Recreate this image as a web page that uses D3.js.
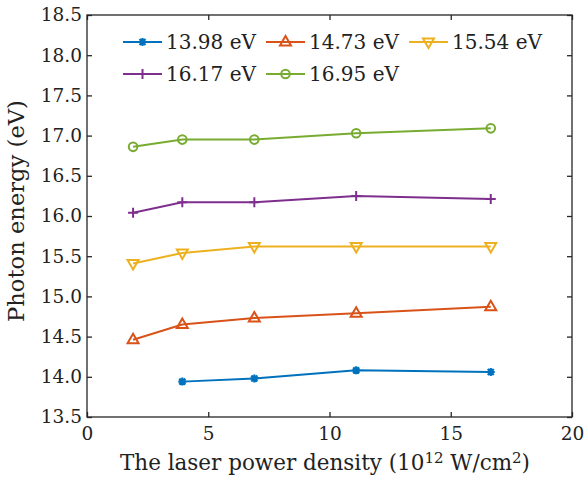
<!DOCTYPE html>
<html><head><meta charset="utf-8">
<script src="https://cdn.jsdelivr.net/npm/d3@7"></script>
<style>body{margin:0;background:#fff}svg text{font-family:"DejaVu Serif",serif;fill:#222}</style>
</head><body><svg id="c" width="584" height="478"></svg>
<script>
const seriesNames = ["13.98 eV","14.73 eV","15.54 eV","16.17 eV","16.95 eV"];
const xPower = [1.9, 3.93, 6.9, 11.1, 16.65];
const s1398 = [null, 13.94, 13.98, 14.08, 14.06];
const s1473 = [14.46, 14.65, 14.73, 14.79, 14.87];
const s1554 = [15.41, 15.54, 15.62, 15.62, 15.62];
const s1617 = [16.04, 16.17, 16.17, 16.25, 16.21];
const s1695 = [16.86, 16.95, 16.95, 17.03, 17.09];
const xTicks = [0,5,10,15,20];
const yTicks = [13.5,14,14.5,15,15.5,16,16.5,17,17.5,18,18.5];
const colors = ["#0072BD","#D95319","#EDB120","#7E2F8E","#77AC30"];
const markers = ["star","tri","tridown","plus","circle"];
const allSeries = [s1398,s1473,s1554,s1617,s1695];

const svg = d3.select("#c");
const L=87,R=572,T=15,B=417;
const x = d3.scaleLinear().domain([0,20]).range([L,R]);
const y = d3.scaleLinear().domain([13.5,18.5]).range([B,T]);
const axC="#262626";
const FF='"DejaVu Serif",serif';

function fit(sel,target){
  const w=sel.node().getComputedTextLength();
  const f=parseFloat(sel.attr("font-size"));
  sel.attr("font-size",(f*target/w).toFixed(2));
}

function marker(g,type,cx,cy,col){
  if(type==="circle") g.append("circle").attr("cx",cx).attr("cy",cy).attr("r",4.3).attr("fill","none").attr("stroke",col).attr("stroke-width",2);
  else if(type==="tri") g.append("path").attr("d",`M${cx},${cy-6}L${cx+5.5},${cy+3.5}L${cx-5.5},${cy+3.5}Z`).attr("fill","none").attr("stroke",col).attr("stroke-width",2);
  else if(type==="tridown") g.append("path").attr("d",`M${cx},${cy+6}L${cx+5.5},${cy-3.5}L${cx-5.5},${cy-3.5}Z`).attr("fill","none").attr("stroke",col).attr("stroke-width",2);
  else if(type==="plus") g.append("path").attr("d",`M${cx-5},${cy}H${cx+5}M${cx},${cy-5}V${cy+5}`).attr("stroke",col).attr("stroke-width",2);
  else if(type==="star"){
    g.append("path").attr("d",`M${cx-4},${cy}H${cx+4}M${cx},${cy-4}V${cy+4}M${cx-3},${cy-3}L${cx+3},${cy+3}M${cx-3},${cy+3}L${cx+3},${cy-3}`).attr("stroke",col).attr("stroke-width",2.2);
    g.append("circle").attr("cx",cx).attr("cy",cy).attr("r",2.5).attr("fill",col);
  }
}

// axes
const gx = svg.append("g").attr("transform",`translate(0,${B})`).call(d3.axisBottom(x).tickValues(xTicks).tickSize(-5).tickPadding(2).tickFormat(d3.format("d")));
const gxt = svg.append("g").attr("transform",`translate(0,${T})`).call(d3.axisTop(x).tickValues(xTicks).tickSize(-5).tickFormat(""));
const gy = svg.append("g").attr("transform",`translate(${L},0)`).call(d3.axisLeft(y).tickValues(yTicks).tickSize(-5).tickPadding(5).tickFormat(d3.format(".1f")));
const gyr = svg.append("g").attr("transform",`translate(${R},0)`).call(d3.axisRight(y).tickValues(yTicks).tickSize(-5).tickFormat(""));
[gx,gxt,gy,gyr].forEach(g=>{g.attr("font-family",FF);g.select(".domain").remove();g.selectAll("line").attr("stroke",axC).attr("stroke-width",1.3);g.selectAll("text").attr("font-size",18.5).attr("font-family",FF).attr("fill","#222");});
gx.selectAll("text").attr("dy","1.15em");
svg.append("rect").attr("x",L).attr("y",T).attr("width",R-L).attr("height",B-T).attr("fill","none").attr("stroke",axC).attr("stroke-width",1.3);

// lines
const line = d3.line().defined(d=>d[1]!==null).x(d=>x(d[0])).y(d=>y(d[1]));
allSeries.forEach((s,i)=>{
  const pts = xPower.map((xv,j)=>[xv,s[j]]);
  svg.append("path").attr("d",line(pts)).attr("fill","none").attr("stroke",colors[i]).attr("stroke-width",2);
  const g=svg.append("g");
  pts.filter(p=>p[1]!==null).forEach(p=>marker(g,markers[i],x(p[0]),y(p[1]),colors[i]));
});

// legend
const legPos = [[123,42],[266,42],[409,42],[123,74],[266,74]];
seriesNames.forEach((n,i)=>{
  const [lx,ly]=legPos[i];
  const g=svg.append("g");
  g.append("line").attr("x1",lx).attr("x2",lx+39).attr("y1",ly).attr("y2",ly).attr("stroke",colors[i]).attr("stroke-width",2);
  marker(g,markers[i],lx+19.5,ly,colors[i]);
  const t=g.append("text").attr("x",lx+43).attr("y",ly).attr("dy","0.36em").attr("font-size",19).attr("font-family",FF).text(n);
  fit(t,90);
});

// axis labels
const xl = svg.append("text").attr("x",325).attr("y",470).attr("text-anchor","middle").attr("font-size",18).attr("font-family",FF);
xl.append("tspan").text("The laser power density (10");
xl.append("tspan").attr("dy",-7).attr("font-size","0.7em").text("12");
xl.append("tspan").attr("dy",7).text(" W/cm");
xl.append("tspan").attr("dy",-7).attr("font-size","0.7em").text("2");
xl.append("tspan").attr("dy",7).text(")");
fit(xl,410);
const yl = svg.append("text").attr("transform",`translate(24,211) rotate(-90)`).attr("text-anchor","middle").attr("font-size",18).attr("font-family",FF).text("Photon energy (eV)");
fit(yl,222);
</script></body></html>
